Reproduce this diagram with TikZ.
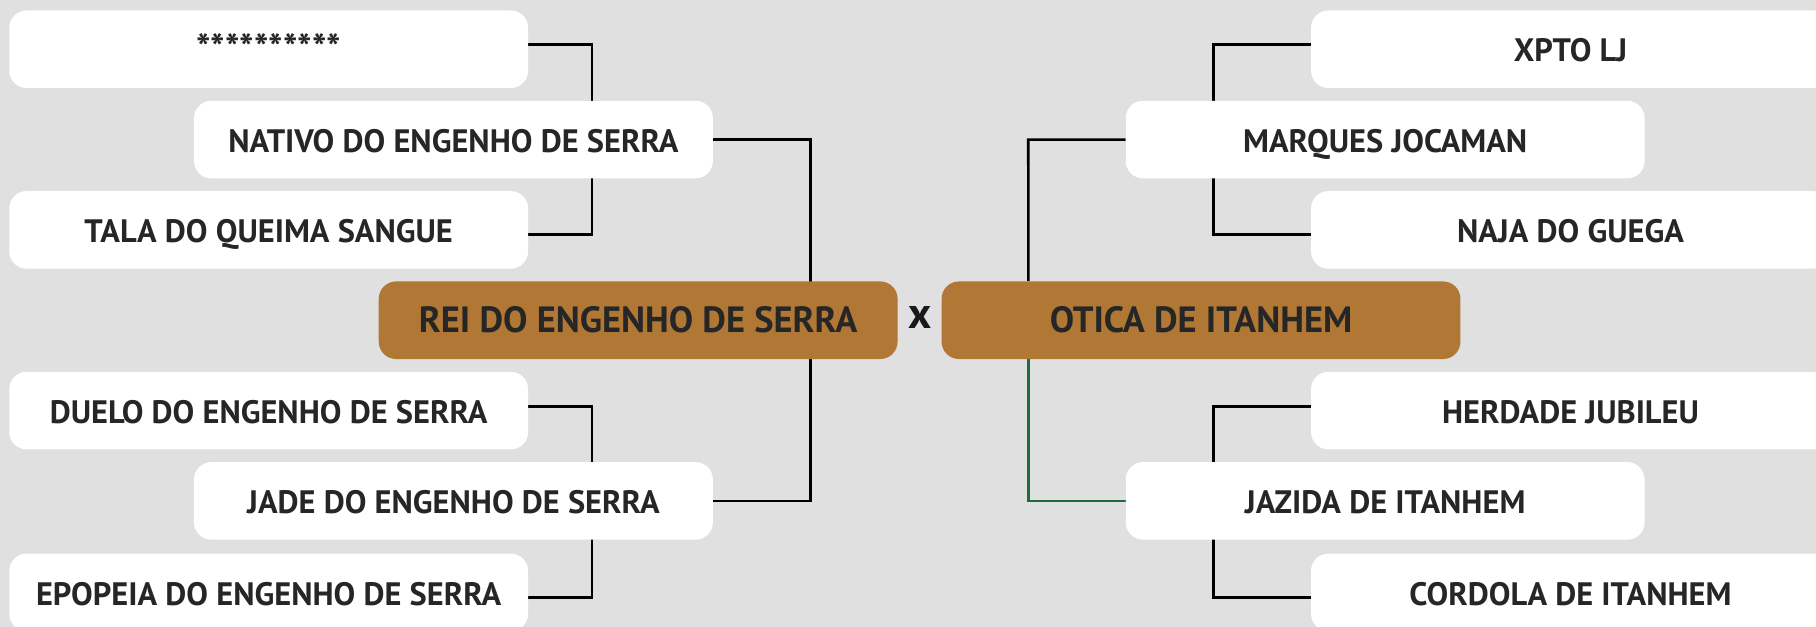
\documentclass[tikz,border=0pt]{standalone}
\usepackage{fontspec}
\setmainfont{PT Sans}
\definecolor{bggray}{HTML}{E0E0E0}
\definecolor{teambrown}{HTML}{B07834}
\definecolor{linkgreen}{HTML}{1E6B3C}
\pgfdeclarelayer{canvas}
\pgfdeclarelayer{lines}
\pgfsetlayers{canvas,lines,main}
\tikzset{
  leaf/.style={fill=white, rounded corners=15pt, minimum width=448pt, minimum height=67pt, inner sep=0pt,
    text height=24pt, text depth=2pt,
    font=\fontsize{28}{32}\selectfont\bfseries, text=black!85},
  team/.style={fill=teambrown, rounded corners=15pt, minimum width=448pt, minimum height=67pt, inner sep=0pt,
    text height=24pt, text depth=2pt,
    font=\fontsize{31.5}{34}\selectfont\bfseries, text=black!85},
  link/.style={draw=black, line width=2.2pt},
  greenlink/.style={draw=linkgreen, line width=2.2pt}
}
\begin{document}
\begin{tikzpicture}[x=1pt,y=-1pt]
\useasboundingbox (0,0) rectangle (1568,541);
\begin{pgfonlayer}{canvas}
\fill[bggray] (0,0) rectangle (1568,541);
\end{pgfonlayer}
\clip (0,0) rectangle (1568,541);
% left side
\node[leaf, font=\fontsize{33}{36}\selectfont\bfseries] (b1) at (232,42.5) {**********};
\node[leaf] (b2) at (391.5,120.5) {NATIVO DO ENGENHO DE SERRA};
\node[leaf] (b3) at (232,198.5) {TALA DO QUEIMA SANGUE};
\node[leaf] (b4) at (232,354.5) {DUELO DO ENGENHO DE SERRA};
\node[leaf] (b5) at (391.5,432.5) {JADE DO ENGENHO DE SERRA};
\node[leaf] (b6) at (232,511.5) {EPOPEIA DO ENGENHO DE SERRA};
% centre
\node[team] (home) at (551,276.5) {REI DO ENGENHO DE SERRA};
\node[font=\fontsize{38}{40}\selectfont\bfseries, text=black!90, inner sep=0pt] (vs) at (794,274) {x};
\node[team] (away) at (1037,276.5) {OTICA DE ITANHEM};
% right side
\node[leaf] (r1) at (1356,42.5) {XPTO LJ};
\node[leaf] (r2) at (1196,120.5) {MARQUES JOCAMAN};
\node[leaf] (r3) at (1356,198.5) {NAJA DO GUEGA};
\node[leaf] (r4) at (1356,354.5) {HERDADE JUBILEU};
\node[leaf] (r5) at (1196,432.5) {JAZIDA DE ITANHEM};
\node[leaf] (r6) at (1356,511.5) {CORDOLA DE ITANHEM};
\begin{pgfonlayer}{lines}
\draw[link] ([yshift=4pt]b1.east) -- ++(55,0) |- ([yshift=-4pt]b3.east);
\draw[link] (b2.east) -- ++(84,0) |- (b5.east);
\draw[link] ([yshift=3.5pt]b4.east) -- ++(55,0) |- ([yshift=-4.5pt]b6.east);
\draw[link] ([yshift=4pt]r1.west) -- ++(-84,0) |- ([yshift=-4pt]r3.west);
\draw[link] (r2.west) -- ++(-84,0) -- (away.north -| 888,0);
\draw[greenlink] (away.south -| 888,0) |- (r5.west);
\draw[link] ([yshift=3.5pt]r4.west) -- ++(-84,0) |- ([yshift=-4.5pt]r6.west);
\end{pgfonlayer}
\end{tikzpicture}
\end{document}
